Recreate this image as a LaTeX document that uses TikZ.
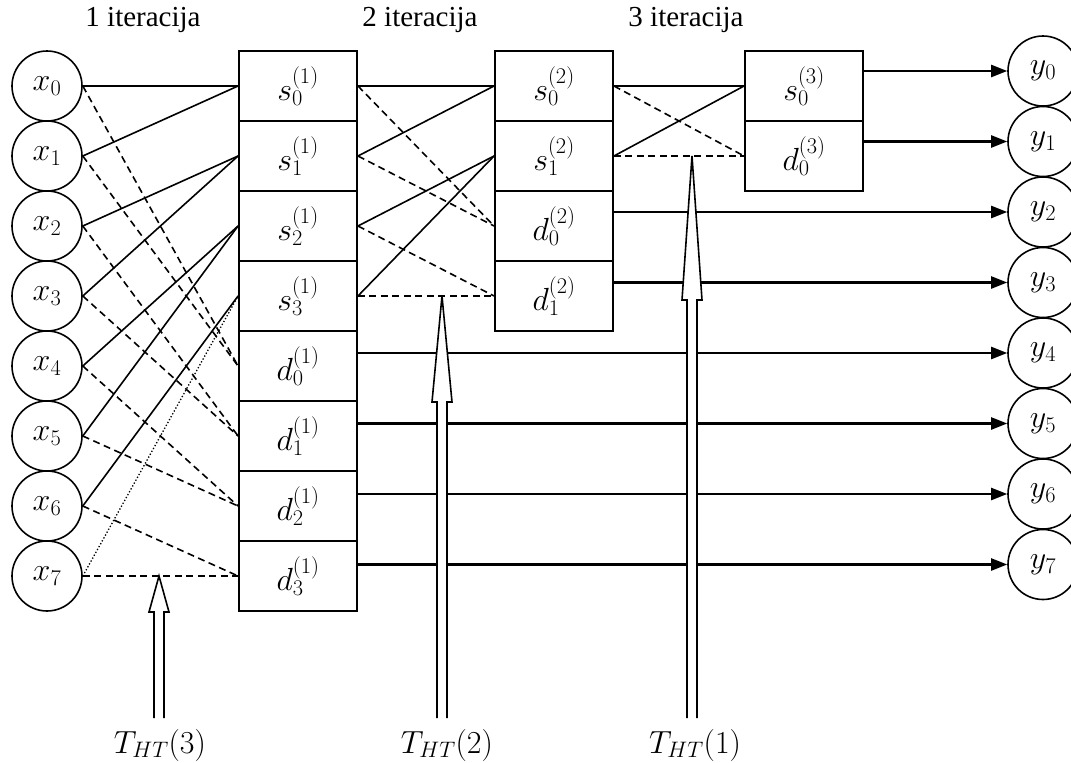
\RequirePackage{fix-cm}
\documentclass[tikz,border=0pt]{standalone}
\usepackage{fontspec}
\setmainfont{Liberation Serif}
\usetikzlibrary{arrows.meta,calc}
\newcommand\mfs{\fontsize{32}{38}\selectfont}
\begin{document}
\begin{tikzpicture}[x=1pt,y=-1pt,
  circ/.style={circle,draw,line width=1.6pt,minimum size=70pt,inner sep=0pt,font=\mfs},
  box/.style={rectangle,draw,line width=1.9pt,minimum width=118pt,minimum height=70pt,inner sep=0pt,font=\mfs},
  sol/.style={line width=1.6pt},
  dsh/.style={line width=1.6pt,dash pattern=on 7pt off 4.5pt},
  dtd/.style={line width=1.3pt,dash pattern=on 1.3pt off 2pt},
  outarr/.style={line width=2.2pt,-{Triangle[length=16pt,width=12pt]}},
  hollow/.style={draw,fill=white,line width=1.6pt},
  lbl/.style={font=\fontsize{29}{34}\selectfont},
  mlbl/.style={font=\mfs}]
\useasboundingbox (0,0) rectangle (1071,763);

% input circles
\foreach \i in {0,...,7}
  \node[circ] (x\i) at (47,86+70*\i) {$x_\i$};
% output circles
\foreach \i in {0,...,7}
  \node[circ] (y\i) at (1043,71+70.5*\i) {$y_\i$};

% column 1
\foreach \i in {0,...,3}
  \node[box] (s1\i) at (298,86+70*\i) {$s_\i^{(1)}$};
\foreach \i in {0,...,3}
  \node[box] (d1\i) at (298,366+70*\i) {$d_\i^{(1)}$};
% column 2
\node[box] (s20) at (554,86)  {$s_0^{(2)}$};
\node[box] (s21) at (554,156) {$s_1^{(2)}$};
\node[box] (d20) at (554,226) {$d_0^{(2)}$};
\node[box] (d21) at (554,296) {$d_1^{(2)}$};
% column 3
\node[box] (s30) at (804,86)  {$s_0^{(3)}$};
\node[box] (d30) at (804,156) {$d_0^{(3)}$};

% stage 1
\draw[sol] (x0.east) -- (s10.west);
\draw[sol] (x1.east) -- (s10.west);
\draw[sol] (x2.east) -- (s11.west);
\draw[sol] (x3.east) -- (s11.west);
\draw[sol] (x4.east) -- (s12.west);
\draw[sol] (x5.east) -- (s12.west);
\draw[sol] (x6.east) -- (s13.west);
\draw[dtd] (x7.east) -- (s13.west);
\draw[dsh] (x0.east) -- (d10.west);
\draw[dsh] (x1.east) -- (d10.west);
\draw[dsh] (x2.east) -- (d11.west);
\draw[dsh] (x3.east) -- (d11.west);
\draw[dsh] (x4.east) -- (d12.west);
\draw[dsh] (x5.east) -- (d12.west);
\draw[dsh] (x6.east) -- (d13.west);
\draw[dsh] (x7.east) -- (d13.west);

% stage 2
\draw[sol] (s10.east) -- (s20.west);
\draw[sol] (s11.east) -- (s20.west);
\draw[sol] (s12.east) -- (s21.west);
\draw[sol] (s13.east) -- (s21.west);
\draw[dsh] (s10.east) -- (d20.west);
\draw[dsh] (s11.east) -- (d20.west);
\draw[dsh] (s12.east) -- (d21.west);
\draw[dsh] (s13.east) -- (d21.west);

% stage 3
\draw[sol] (s20.east) -- (s30.west);
\draw[sol] (s21.east) -- (s30.west);
\draw[dsh] (s20.east) -- (d30.west);
\draw[dsh] (s21.east) -- (d30.west);

% outputs
\draw[outarr] (s30.east |- y0.west) -- (y0.west);
\draw[outarr] (d30.east |- y1.west) -- (y1.west);
\draw[outarr] (d20.east |- y2.west) -- (y2.west);
\draw[outarr] (d21.east |- y3.west) -- (y3.west);
\draw[outarr] (d10.east |- y4.west) -- (y4.west);
\draw[outarr] (d11.east |- y5.west) -- (y5.west);
\draw[outarr] (d12.east |- y6.west) -- (y6.west);
\draw[outarr] (d13.east |- y7.west) -- (y7.west);

% hollow arrows
\draw[hollow] (154,718) -- (154,612) -- (149,612) -- (159,576) -- (169,612) -- (164,612) -- (164,718);
\draw[hollow] (437,718) -- (437,402) -- (432,402) -- (442,296) -- (452,402) -- (447,402) -- (447,718);
\draw[hollow] (687,718) -- (687,300) -- (682,300) -- (692,156) -- (702,300) -- (697,300) -- (697,718);

% labels
\node[mlbl] (T3) at (160,745) {$T_{HT}(3)$};
\node[mlbl] (T2) at (447,745) {$T_{HT}(2)$};
\node[mlbl] (T1) at (695,745) {$T_{HT}(1)$};
\node[lbl] (it1) at (143,20) {1 iteracija};
\node[lbl] (it2) at (420,20) {2 iteracija};
\node[lbl] (it3) at (686,20) {3 iteracija};
\end{tikzpicture}
\end{document}
